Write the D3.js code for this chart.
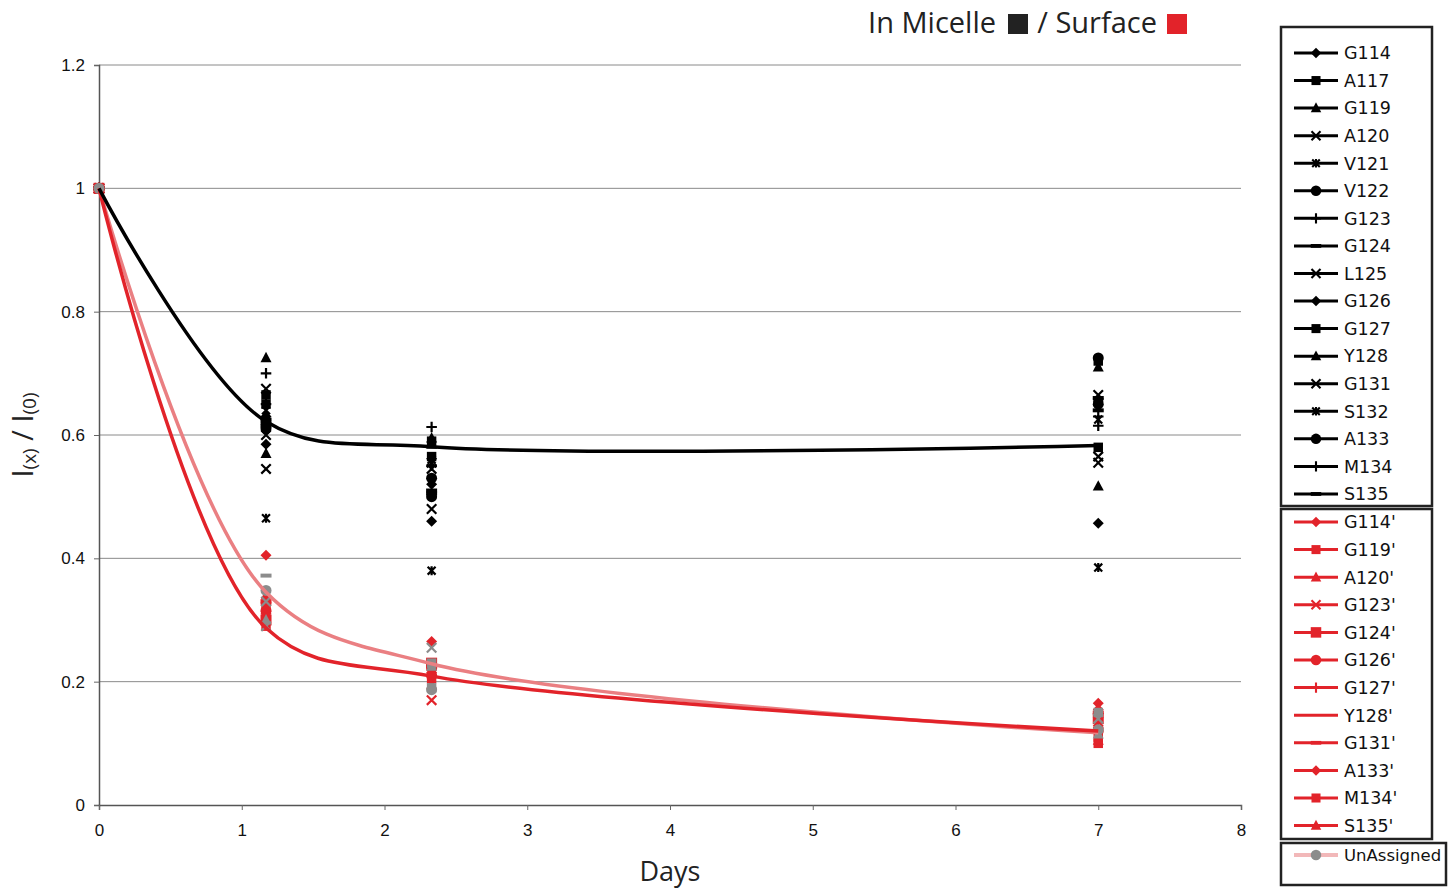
<!DOCTYPE html>
<html>
<head>
<meta charset="utf-8">
<script src="https://cdn.jsdelivr.net/npm/d3@7"></script>
<style>
  body { margin: 0; background: #fff; }
  svg { display: block; }
</style>
</head>
<body>
<svg id="chart"></svg>
<script>
// sampling days
const days = [0, 1.17, 2.33, 7]

// in micelle (black)
const micelleNames = ['G114', 'A117', 'G119', 'A120', 'V121', 'V122', 'G123', 'G124', 'L125',
  'G126', 'G127', 'Y128', 'G131', 'S132', 'A133', 'M134', 'S135']
const micelleMarkers = ['diamond', 'square', 'triangle', 'x', 'star', 'circle', 'plus', 'dash', 'x',
  'diamond', 'square', 'triangle', 'x', 'star', 'circle', 'plus', 'dash']
const micelleValues = [
  [1, 0.63, 0.46, 0.457],
  [1, 0.665, 0.59, 0.72],
  [1, 0.725, 0.595, 0.517],
  [1, 0.675, 0.48, 0.665],
  [1, 0.465, 0.38, 0.385],
  [1, 0.62, 0.53, 0.725],
  [1, 0.70, 0.613, 0.615],
  [1, 0.625, 0.51, 0.64],
  [1, 0.545, 0.545, 0.565],
  [1, 0.585, 0.52, 0.655],
  [1, 0.65, 0.565, 0.58],
  [1, 0.57, 0.585, 0.71],
  [1, 0.60, 0.555, 0.555],
  [1, 0.64, 0.56, 0.625],
  [1, 0.61, 0.50, 0.65],
  [1, 0.65, 0.55, 0.63],
  [1, 0.615, 0.505, 0.66],
]

// surface (red)
const surfaceNames = ["G114'", "G119'", "A120'", "G123'", "G124'", "G126'", "G127'", "Y128'",
  "G131'", "A133'", "M134'", "S135'"]
const surfaceMarkers = ['diamond', 'square', 'triangle', 'x', 'bigsquare', 'circle', 'plus', 'none',
  'dash', 'diamond', 'square', 'triangle']
const surfaceValues = [
  [1, 0.405, 0.265, 0.165],
  [1, 0.29, 0.225, 0.10],
  [1, 0.335, 0.215, 0.155],
  [1, 0.32, 0.17, 0.135],
  [1, 0.30, 0.23, 0.14],
  [1, 0.315, 0.21, 0.12],
  [1, 0.325, 0.22, 0.125],
  [1, 0.31, 0.20, 0.13],
  [1, 0.33, 0.225, 0.15],
  [1, 0.31, 0.215, 0.155],
  [1, 0.32, 0.205, 0.11],
  [1, 0.34, 0.195, 0.105],
]

// unassigned (grey points)
const unassignedDays = [0, 1.17, 1.17, 1.17, 1.17, 1.17, 2.33, 2.33, 2.33, 2.33, 2.33, 7, 7, 7, 7]
const unassignedValues = [1, 0.372, 0.348, 0.33, 0.30, 0.29, 0.255, 0.23, 0.225, 0.187, 0.19, 0.15, 0.14, 0.122, 0.115]
const unassignedMarkers = ['circle', 'dash', 'circle', 'x', 'triangle', 'x', 'x', 'square', 'triangle', 'circle',
  'square', 'square', 'x', 'circle', 'triangle']

// smoothed trend lines
const micelleTrend = [1, 0.622, 0.581, 0.583]
const surfaceTrend = [1, 0.287, 0.209, 0.12]
const unassignedTrend = [1, 0.345, 0.229, 0.117]

const yTicks = [0, 0.2, 0.4, 0.6, 0.8, 1, 1.2]
const xTicks = [0, 1, 2, 3, 4, 5, 6, 7, 8]

const W = 1455, H = 890
const plot = { left: 99, right: 1241, top: 65, bottom: 805 }
const BLACK = '#000', RED = '#e2232a', PINK = '#ea7f82', GREY = '#8c8c8c'

const svg = d3.select('#chart').attr('width', W).attr('height', H)

const xScale = d3.scaleLinear().domain([0, 8]).range([plot.left, plot.right])
const yScale = d3.scaleLinear().domain([0, 1.2]).range([plot.bottom, plot.top])

// marker shapes, excel style
function drawMarker(g, type, color, s) {
  const r = 5 * s
  if (type === 'diamond') {
    g.append('path').attr('d', `M0,${-r}L${r},0L0,${r}L${-r},0Z`).attr('fill', color)
  } else if (type === 'square') {
    g.append('rect').attr('x', -4.3 * s).attr('y', -4.3 * s).attr('width', 8.6 * s).attr('height', 8.6 * s).attr('fill', color)
  } else if (type === 'bigsquare') {
    g.append('rect').attr('x', -5 * s).attr('y', -5 * s).attr('width', 10 * s).attr('height', 10 * s).attr('fill', color)
  } else if (type === 'triangle') {
    g.append('path').attr('d', `M0,${-r * 1.1}L${r},${r * 0.8}L${-r},${r * 0.8}Z`).attr('fill', color)
  } else if (type === 'circle') {
    g.append('circle').attr('r', r).attr('fill', color)
  } else if (type === 'x') {
    const k = 4.3 * s
    g.append('path').attr('d', `M${-k},${-k}L${k},${k}M${-k},${k}L${k},${-k}`)
      .attr('stroke', color).attr('stroke-width', 2 * s).attr('fill', 'none')
  } else if (type === 'star') {
    const k = 3.6 * s
    g.append('path').attr('d', `M${-k},${-k}L${k},${k}M${-k},${k}L${k},${-k}M0,${-k - 0.5}L0,${k + 0.5}`)
      .attr('stroke', color).attr('stroke-width', 2 * s).attr('fill', 'none')
  } else if (type === 'plus') {
    const k = 4.8 * s
    g.append('path').attr('d', `M${-k},0L${k},0M0,${-k}L0,${k}`)
      .attr('stroke', color).attr('stroke-width', 2 * s).attr('fill', 'none')
  } else if (type === 'dash') {
    g.append('rect').attr('x', -5 * s).attr('y', -1.8 * s).attr('width', 10 * s).attr('height', 3.6 * s).attr('fill', color)
  }
}

// gridlines
svg.append('g')
  .selectAll('line')
  .data(yTicks.filter(d => d > 0))
  .join('line')
  .attr('x1', plot.left).attr('x2', plot.right)
  .attr('y1', d => yScale(d)).attr('y2', d => yScale(d))
  .attr('stroke', '#8a8a8a').attr('stroke-width', 1)

// axes
const yAxis = d3.axisLeft(yScale).tickValues(yTicks).tickFormat(d3.format('~g')).tickSize(5).tickPadding(9)
const xAxis = d3.axisBottom(xScale).tickValues(xTicks).tickFormat(d3.format('d')).tickSize(5).tickPadding(14)

const gy = svg.append('g').attr('transform', `translate(${plot.left},0)`).call(yAxis)
const gx = svg.append('g').attr('transform', `translate(0,${plot.bottom})`).call(xAxis)
;[gx, gy].forEach(g => {
  g.attr('font-size', null).attr('font-family', null)
  g.select('.domain').attr('stroke', '#555').attr('stroke-width', 1.5)
  g.selectAll('.tick line').attr('stroke', '#666')
  g.selectAll('.tick text').attr('fill', '#111').style('font-family', '"Liberation Sans", Arial, sans-serif').style('font-size', '17px')
})

// axis titles
svg.append('text')
  .attr('x', 670).attr('y', 881)
  .attr('text-anchor', 'middle')
  .style('font-family', '"Open Sans", "Noto Sans", sans-serif')
  .style('font-size', '27px').attr('fill', '#222')
  .text('Days')

const ylab = svg.append('text')
  .attr('transform', 'translate(33,435) rotate(-90)')
  .attr('text-anchor', 'middle')
  .style('font-family', '"Open Sans", "Noto Sans", sans-serif')
  .attr('fill', '#222')
ylab.append('tspan').style('font-size', '29px').text('I')
ylab.append('tspan').style('font-size', '19px').attr('dy', 3).text('(x)')
ylab.append('tspan').style('font-size', '29px').attr('dy', -3).text(' / I')
ylab.append('tspan').style('font-size', '19px').attr('dy', 3).text('(0)')

// data markers
const markerLayer = svg.append('g')
micelleValues.forEach((vals, i) => {
  vals.forEach((v, j) => {
    const g = markerLayer.append('g').attr('transform', `translate(${xScale(days[j])},${yScale(v)})`)
    drawMarker(g, micelleMarkers[i], BLACK, 1.1)
  })
})
surfaceValues.forEach((vals, i) => {
  vals.forEach((v, j) => {
    const g = markerLayer.append('g').attr('transform', `translate(${xScale(days[j])},${yScale(v)})`)
    drawMarker(g, surfaceMarkers[i], RED, 1.1)
  })
})
unassignedValues.forEach((v, i) => {
  const g = markerLayer.append('g').attr('transform', `translate(${xScale(unassignedDays[i])},${yScale(v)})`)
  drawMarker(g, unassignedMarkers[i], GREY, 1.1)
})

// smoothed lines
const line = d3.line()
  .x((d, i) => xScale(days[i]))
  .y(d => yScale(d))
  .curve(d3.curveCatmullRom.alpha(0.5))

svg.append('path').datum(unassignedTrend).attr('d', line)
  .attr('fill', 'none').attr('stroke', PINK).attr('stroke-width', 3.5)
svg.append('path').datum(surfaceTrend).attr('d', line)
  .attr('fill', 'none').attr('stroke', RED).attr('stroke-width', 3.5)
svg.append('path').datum(micelleTrend).attr('d', line)
  .attr('fill', 'none').attr('stroke', BLACK).attr('stroke-width', 3.5)

// title
const titleFont = '"Open Sans", "Noto Sans", sans-serif'
svg.append('text').attr('x', 996).attr('y', 33).attr('text-anchor', 'end')
  .style('font-family', titleFont).style('font-size', '29px').attr('fill', '#222').text('In Micelle')
svg.append('rect').attr('x', 1008).attr('y', 14).attr('width', 20).attr('height', 20).attr('fill', '#222')
svg.append('text').attr('x', 1157).attr('y', 33).attr('text-anchor', 'end')
  .style('font-family', titleFont).style('font-size', '29px').attr('fill', '#222').text('/ Surface')
svg.append('rect').attr('x', 1167).attr('y', 14).attr('width', 20).attr('height', 20).attr('fill', RED)

// legends
const legendFont = '"DejaVu Sans", Verdana, sans-serif'
function legendBox(x, y, w, h) {
  svg.append('rect').attr('x', x).attr('y', y).attr('width', w).attr('height', h)
    .attr('fill', '#fff').attr('stroke', '#222').attr('stroke-width', 2.5)
}
function legendRow(y, label, marker, color, lineColor, lineWidth, fontSize = 17.5) {
  svg.append('line').attr('x1', 1294).attr('x2', 1338).attr('y1', y).attr('y2', y)
    .attr('stroke', lineColor).attr('stroke-width', lineWidth)
  const g = svg.append('g').attr('transform', `translate(1316,${y})`)
  drawMarker(g, marker, color, 1.05)
  svg.append('text').attr('x', 1344).attr('y', y).attr('dy', '0.36em')
    .style('font-family', legendFont).style('font-size', fontSize + 'px').attr('fill', '#111').text(label)
}

legendBox(1281, 27, 151, 479)
micelleNames.forEach((n, i) => legendRow(53 + i * 27.56, n, micelleMarkers[i], BLACK, BLACK, 3))

legendBox(1281, 509, 151, 330)
surfaceNames.forEach((n, i) => legendRow(522 + i * 27.6, n, surfaceMarkers[i], RED, RED, 3))

legendBox(1281, 843, 165, 42)
legendRow(855, 'UnAssigned', 'circle', GREY, '#f2b8b9', 4, 16.5)
</script>
</body>
</html>
